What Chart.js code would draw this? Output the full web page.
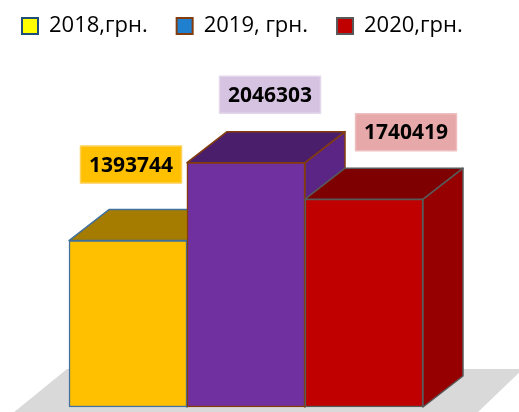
<!DOCTYPE html>
<html>
<head>
<meta charset="utf-8">
<script src="https://cdn.jsdelivr.net/npm/chart.js@4.4.1/dist/chart.umd.min.js"></script>
<style>
  html, body { margin: 0; padding: 0; background: #fff; }
  #caja { width: 519px; height: 412px; }
</style>
</head>
<body>
<div id="caja"><canvas id="graficoAnual"></canvas></div>
<script>
// datos
const anios = ['2018,грн.', '2019, грн.', '2020,грн.'];
const montos = [1393744, 2046303, 1740419];

// colores de las barras (frente, tapa, costado, borde)
const colorFrente = ['#FFC000', '#7030A0', '#C00000'];
const colorTapa = ['#A67C00', '#4A1E6B', '#7F0000'];
const colorCostado = ['#8A6700', '#5A2584', '#960000'];
const colorBorde = ['#41719C', '#843C0C', '#595959'];

// colores de la leyenda (no coinciden con las barras en el original)
const leyendaRelleno = ['#FFFF00', '#1F80D0', '#C00000'];
const leyendaBorde = ['#1F4E79', '#843C0C', '#595959'];

// etiquetas de valores
const etiquetaFondo = ['#FFC000', '#D6C3E1', '#E6A8A8'];
const etiquetaBorde = ['#FFD05A', '#E4D7EC', '#EEC0C0'];
const etiquetaDesplX = [3, 24, 42];
const etiquetaDesplY = [45, 37, 36];

const PROF_X = 40, PROF_Y = 31;

const cubo3d = {
    id: 'cubo3d',
    beforeDatasetsDraw(chart) {
        // piso gris
        const { ctx, chartArea: a, scales: { y } } = chart;
        const base = y.getPixelForValue(0);
        ctx.save();
        ctx.fillStyle = '#D9D9D9';
        ctx.beginPath();
        ctx.moveTo(a.left - 56, base + 6);
        ctx.lineTo(a.left - 2, base - 38);
        ctx.lineTo(a.right + 100, base - 38);
        ctx.lineTo(a.right + 54, base + 6);
        ctx.closePath();
        ctx.fill();
        ctx.restore();
    },
    afterDatasetsDraw(chart) {
        const { ctx } = chart;
        const meta = chart.getDatasetMeta(0);
        ctx.save();
        ctx.lineWidth = 1.5;
        ctx.lineJoin = 'round';
        meta.data.forEach((barra, i) => {
            const { x, y, base, width } = barra.getProps(['x', 'y', 'base', 'width'], true);
            const izq = x - width / 2, der = x + width / 2;
            ctx.strokeStyle = colorBorde[i];
            // costado
            ctx.fillStyle = colorCostado[i];
            ctx.beginPath();
            ctx.moveTo(der, y);
            ctx.lineTo(der + PROF_X, y - PROF_Y);
            ctx.lineTo(der + PROF_X, base - PROF_Y);
            ctx.lineTo(der, base);
            ctx.closePath();
            ctx.fill();
            ctx.stroke();
            // tapa
            ctx.fillStyle = colorTapa[i];
            ctx.beginPath();
            ctx.moveTo(izq, y);
            ctx.lineTo(izq + PROF_X, y - PROF_Y);
            ctx.lineTo(der + PROF_X, y - PROF_Y);
            ctx.lineTo(der, y);
            ctx.closePath();
            ctx.fill();
            ctx.stroke();
            // frente otra vez, encima del costado anterior
            barra.draw(ctx);
        });

        // etiquetas
        ctx.font = 'bold 21px "Open Sans", sans-serif';
        ctx.textAlign = 'center';
        ctx.textBaseline = 'middle';
        meta.data.forEach((barra, i) => {
            const { x, y } = barra.getProps(['x', 'y'], true);
            const cx = x + etiquetaDesplX[i];
            const cy = y - PROF_Y - etiquetaDesplY[i];
            const w = 101, h = 37;
            ctx.fillStyle = etiquetaFondo[i];
            ctx.fillRect(cx - w / 2, cy - h / 2, w, h);
            ctx.strokeStyle = etiquetaBorde[i];
            ctx.lineWidth = 1.5;
            ctx.strokeRect(cx - w / 2, cy - h / 2, w, h);
            ctx.fillStyle = '#000';
            ctx.fillText(String(montos[i]), cx, cy + 1);
        });
        ctx.restore();
    }
};

const ctx = document.getElementById('graficoAnual').getContext('2d');

new Chart(ctx, {
    type: 'bar',
    data: {
        labels: anios,
        datasets: [{
            label: 'Сума',
            data: montos,
            backgroundColor: colorFrente,
            borderColor: colorBorde,
            borderWidth: 1.5,
            borderSkipped: false,
            categoryPercentage: 1,
            barPercentage: 1
        }]
    },
    options: {
        responsive: true,
        maintainAspectRatio: false,
        animation: false,
        layout: {
            padding: { left: -7, right: 0, top: -14, bottom: 5 }
        },
        plugins: {
            tooltip: { enabled: false },
            legend: {
                position: 'top',
                align: 'start',
                labels: {
                    boxWidth: 16,
                    boxHeight: 16,
                    padding: 29,
                    color: '#000',
                    font: { family: '"Open Sans", sans-serif', size: 22 },
                    generateLabels: () => anios.map((t, i) => ({
                        text: t,
                        fillStyle: leyendaRelleno[i],
                        strokeStyle: leyendaBorde[i],
                        lineWidth: 2,
                        fontColor: '#000',
                        hidden: false,
                        index: i
                    }))
                }
            }
        },
        scales: {
            x: { display: false },
            y: {
                beginAtZero: true,
                max: 3015000,
                ticks: { display: false },
                grid: { display: false },
                border: { display: false },
                afterFit: s => { s.width = 76; }
            },
            yDer: {
                position: 'right',
                ticks: { display: false },
                grid: { display: false },
                border: { display: false },
                afterFit: s => { s.width = 96; }
            }
        }
    },
    plugins: [cubo3d]
});
</script>
</body>
</html>
